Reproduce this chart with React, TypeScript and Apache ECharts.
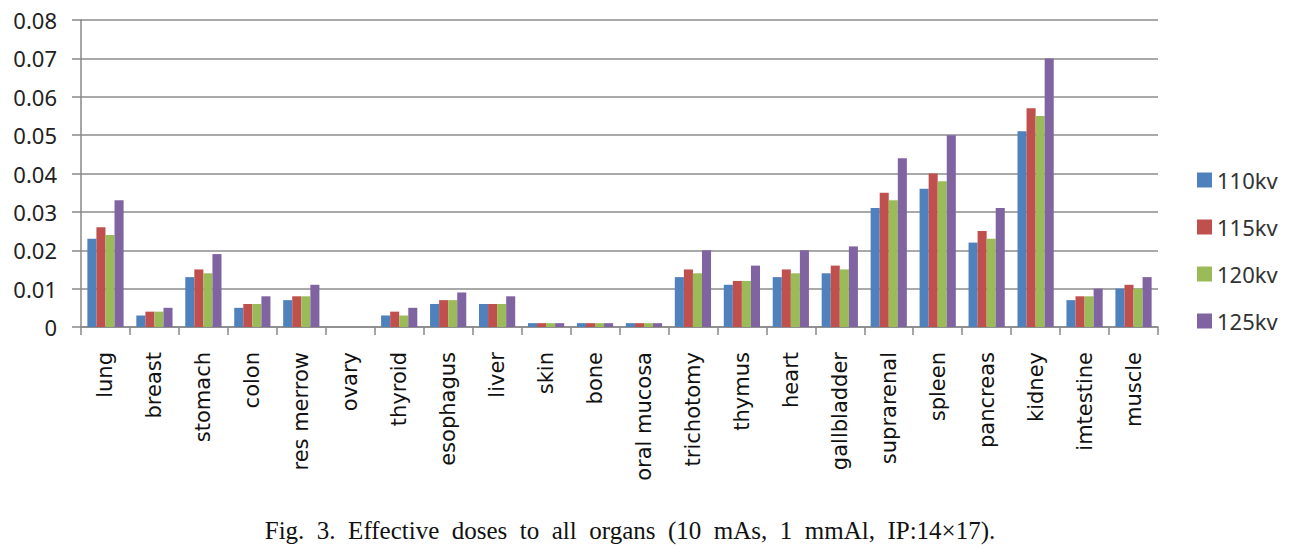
import React, { useEffect, useRef } from "react";
import * as echarts from "echarts";

const organs = [
  "lung", "breast", "stomach", "colon", "res merrow", "ovary", "thyroid", "esophagus",
  "liver", "skin", "bone", "oral mucosa", "trichotomy", "thymus", "heart", "gallbladder",
  "suprarenal", "spleen", "pancreas", "kidney", "imtestine", "muscle",
];
const kv110 = [0.023, 0.003, 0.013, 0.005, 0.007, 0, 0.003, 0.006, 0.006, 0.001, 0.001, 0.001, 0.013, 0.011, 0.013, 0.014, 0.031, 0.036, 0.022, 0.051, 0.007, 0.010];
const kv115 = [0.026, 0.004, 0.015, 0.006, 0.008, 0, 0.004, 0.007, 0.006, 0.001, 0.001, 0.001, 0.015, 0.012, 0.015, 0.016, 0.035, 0.040, 0.025, 0.057, 0.008, 0.011];
const kv120 = [0.024, 0.004, 0.014, 0.006, 0.008, 0, 0.003, 0.007, 0.006, 0.001, 0.001, 0.001, 0.014, 0.012, 0.014, 0.015, 0.033, 0.038, 0.023, 0.055, 0.008, 0.010];
const kv125 = [0.033, 0.005, 0.019, 0.008, 0.011, 0, 0.005, 0.009, 0.008, 0.001, 0.001, 0.001, 0.020, 0.016, 0.020, 0.021, 0.044, 0.050, 0.031, 0.070, 0.010, 0.013];
const seriesNames = ["110kv", "115kv", "120kv", "125kv"];
const colors = ["#4F81BD", "#C0504D", "#9BBB59", "#8064A2"];
const caption = "Fig.  3.  Effective  doses  to  all  organs  (10  mAs,  1  mmAl,  IP:14×17).";

export default function App() {
  const ref = useRef<HTMLDivElement>(null);
  useEffect(() => {
    if (!ref.current) return;
    const chart = echarts.init(ref.current, null, { renderer: "svg" });
    const data = [kv110, kv115, kv120, kv125];
    chart.setOption({
      animation: false,
      backgroundColor: "#ffffff",
      color: colors,
      title: {
        text: caption,
        left: 630,
        textAlign: "center",
        top: 518,
        padding: 0,
        textStyle: {
          fontFamily: "Liberation Serif",
          fontSize: 25,
          fontWeight: "normal",
          color: "#111",
        },
      },
      legend: {
        orient: "vertical",
        left: 1197,
        top: 169,
        padding: 0,
        itemWidth: 15,
        itemHeight: 15,
        itemGap: 25,
        icon: "rect",
        data: seriesNames,
        textStyle: { fontFamily: "Noto Sans", fontSize: 22, color: "#333" },
      },
      grid: { left: 81, right: 144, top: 20, bottom: 225, containLabel: false },
      xAxis: {
        type: "category",
        data: organs,
        axisLine: { lineStyle: { color: "#888", width: 1.5 } },
        axisTick: { show: true, length: 8, lineStyle: { color: "#888", width: 1.5 } },
        axisLabel: {
          rotate: 90,
          interval: 0,
          margin: 25,
          fontFamily: "DejaVu Sans",
          fontSize: 21,
          color: "#111",
        },
      },
      yAxis: {
        type: "value",
        min: 0,
        max: 0.08,
        interval: 0.01,
        axisLine: { show: true, lineStyle: { color: "#888", width: 1.5 } },
        axisTick: { show: true, length: 9, lineStyle: { color: "#888", width: 1.5 } },
        splitLine: { lineStyle: { color: "#8c8c8c", width: 1.5 } },
        axisLabel: {
          margin: 24,
          fontFamily: "Noto Sans",
          fontSize: 22,
          color: "#222",
          formatter: (v: number) => (v === 0 ? "0" : v.toFixed(2)),
        },
      },
      series: seriesNames.map((name, i) => ({
        name,
        type: "bar",
        data: data[i],
        barGap: "0%",
        barCategoryGap: "26%",
        itemStyle: { color: colors[i] },
      })),
    });
    return () => chart.dispose();
  }, []);
  return (
    <div
      ref={ref}
      style={{ position: "fixed", left: 0, top: 0, width: 1302, height: 552, background: "#fff" }}
    />
  );
}
